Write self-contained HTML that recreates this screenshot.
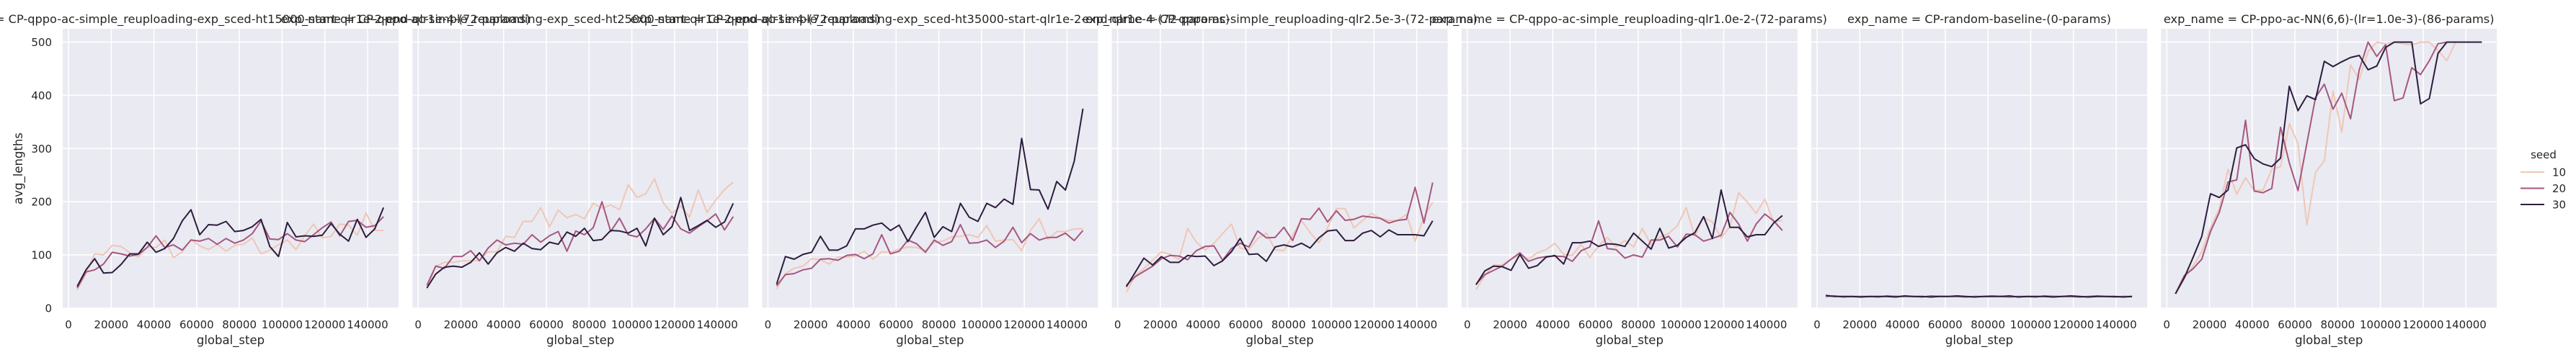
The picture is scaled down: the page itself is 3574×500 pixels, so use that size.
<!DOCTYPE html>
<html><head><meta charset="utf-8">
<style>
html,body{margin:0;padding:0;background:#fff;}
svg{display:block;font-family:"DejaVu Sans","Liberation Sans",sans-serif;}
</style></head>
<body>
<svg id="chart" width="3574" height="500" viewBox="0 0 3574 500" xmlns="http://www.w3.org/2000/svg"></svg>
<script>
const panelTitles = [
 "exp_name = CP-qppo-ac-simple_reuploading-exp_sced-ht15000-start-qlr1e-2-end-qlr1e-4-(72-params)",
 "exp_name = CP-qppo-ac-simple_reuploading-exp_sced-ht25000-start-qlr1e-2-end-qlr1e-4-(72-params)",
 "exp_name = CP-qppo-ac-simple_reuploading-exp_sced-ht35000-start-qlr1e-2-end-qlr1e-4-(72-params)",
 "exp_name = CP-qppo-ac-simple_reuploading-qlr2.5e-3-(72-params)",
 "exp_name = CP-qppo-ac-simple_reuploading-qlr1.0e-2-(72-params)",
 "exp_name = CP-random-baseline-(0-params)",
 "exp_name = CP-ppo-ac-NN(6,6)-(lr=1.0e-3)-(86-params)"
];
const seeds = [10, 20, 30];
const xTicks = [0,20000,40000,60000,80000,100000,120000,140000];
const yTicks = [0,100,200,300,400,500];
const stepCount = 36;
const stepSize = 4096;
// panel 1
const p1s10=[34,65,102,100,118,116,104,96,115,114,128,95,106,129,117,110,120,107,118,120,132,102,109,119,128,110,136,158,132,135,158,156,137,179,146,146];
const p1s20=[38,68,72,83,105,102,98,101,114,136,114,119,109,128,126,131,120,131,122,128,140,164,130,129,140,128,125,138,151,162,136,163,165,152,155,172];
const p1s30=[41,72,93,66,67,82,102,102,124,105,112,131,164,185,138,157,156,163,144,146,153,167,116,97,161,134,136,135,137,159,139,126,167,133,149,189];
// panel 2
const p2s10=[36,79,86,86,89,89,90,106,106,135,133,163,163,189,153,184,170,176,168,197,188,194,185,232,208,215,243,198,178,192,171,222,180,203,223,237];
const p2s20=[43,79,75,97,97,108,89,113,128,119,122,120,138,124,136,144,107,145,138,151,200,144,169,138,134,149,169,148,173,149,141,153,164,177,147,172];
const p2s30=[38,64,77,79,77,86,104,83,104,114,107,122,112,110,124,120,143,135,150,127,129,146,145,141,150,117,169,138,153,208,146,155,165,152,162,197];
// panel 3
const p3s10=[36,65,75,79,93,91,83,96,96,98,107,92,106,105,111,115,114,108,124,126,134,135,138,133,155,126,128,129,108,146,168,129,144,144,149,149];
const p3s20=[42,63,65,72,75,92,93,90,99,101,93,102,138,102,107,128,121,105,128,118,125,157,122,123,128,114,126,152,123,140,128,133,133,141,127,146];
const p3s30=[45,97,92,101,105,135,109,109,117,149,149,156,160,146,156,125,153,180,133,153,144,197,171,163,197,189,205,195,319,223,222,186,238,222,276,375];
// panel 4
const p4s10=[30,61,74,90,106,101,91,150,124,109,122,140,158,113,110,131,141,110,108,137,165,142,123,151,187,187,151,165,178,169,165,165,176,126,171,199];
const p4s20=[43,59,69,79,93,99,98,91,108,116,117,90,112,122,115,145,132,133,152,127,168,167,188,162,183,165,167,173,171,169,160,165,167,227,160,236];
const p4s30=[40,67,94,81,97,86,86,99,97,98,80,89,106,131,101,102,88,115,119,115,122,113,132,145,147,127,127,141,146,134,147,138,138,138,136,164];
// panel 5
const p5s10=[35,61,81,81,92,99,92,104,110,122,101,99,120,95,117,133,115,127,115,150,119,134,140,155,189,135,171,162,132,153,217,199,178,205,162,165];
const p5s20=[45,63,71,79,92,104,88,94,97,98,97,88,108,115,164,112,110,94,100,96,128,128,135,115,139,138,126,131,137,180,158,126,158,177,164,146];
const p5s30=[44,70,79,78,71,101,75,80,96,99,83,123,123,126,116,121,120,116,141,126,111,150,113,118,133,142,172,131,222,152,152,134,138,138,160,174];
// panel 6
const p6s10=[23,22,22,21,22,21,22,22,23,22,21,22,22,23,22,21,22,22,21,22,23,22,22,21,22,22,23,22,21,22,22,22,21,22,22,21];
const p6s20=[22,23,21,22,22,22,21,23,22,22,22,21,23,22,22,22,21,22,22,23,22,21,22,22,21,23,22,22,22,21,22,23,22,21,22,22];
const p6s30=[24,22,22,22,21,22,22,22,21,23,22,22,21,22,22,23,22,21,22,22,22,23,21,22,22,22,21,22,23,22,21,22,22,22,21,22];
// panel 7
const p7s10=[27,56,79,106,151,187,261,214,245,221,222,261,266,347,309,156,255,277,408,331,457,430,482,500,497,500,497,495,500,500,484,465,500,500,500,500];
const p7s20=[27,61,74,92,144,180,237,241,353,220,217,225,340,273,221,309,396,421,374,404,356,448,500,473,495,390,395,452,439,465,497,500,500,500,500,500];
const p7s30=[27,57,95,135,215,208,222,301,307,281,271,266,282,417,371,399,392,464,454,463,471,475,448,455,490,500,500,500,384,394,479,500,500,500,500,500];
const panelSeries=[[p1s10,p1s20,p1s30],[p2s10,p2s20,p2s30],[p3s10,p3s20,p3s30],[p4s10,p4s20,p4s30],[p5s10,p5s20,p5s30],[p6s10,p6s20,p6s30],[p7s10,p7s20,p7s30]];

const NS="http://www.w3.org/2000/svg";
const svg=document.getElementById('chart');
const colors=["#efc7b6","#a5577f","#2c1d3d"];
const panelLeft0=87, pitch=485.2, pw=466, plotTop=40, plotBottom=428;
const xMin=-2700, xMax=154500, yMin=0, yMax=525;
function mk(tag,attrs,parent){const e=document.createElementNS(NS,tag);for(const k in attrs)e.setAttribute(k,attrs[k]);(parent||svg).appendChild(e);return e;}
function yS(v){return plotBottom-(v-yMin)/(yMax-yMin)*(plotBottom-plotTop);}

const titleLayer=mk('g',{});



panelSeries.forEach((series,pi)=>{
  const L=panelLeft0+pi*pitch;
  const xS=v=>L+(v-xMin)/(xMax-xMin)*pw;
  const g=mk('g',{});
  
  
  const bg=mk('rect',{x:L,y:plotTop,width:pw,height:plotBottom-plotTop,fill:'#eaeaf2'},g);
  
  
  xTicks.forEach(t=>{
    const x=xS(t);
    const gl=mk('line',{x1:x,x2:x,y1:plotTop,y2:plotBottom,stroke:'#fff','stroke-width':1.6},g);
    
    
    const tl=mk('text',{x:x,y:456,'font-size':15,fill:'#262626','text-anchor':'middle'},g);
    tl.textContent=t;
    
    
  });
  yTicks.forEach(t=>{
    const y=yS(t);
    const gl=mk('line',{x1:L,x2:L+pw,y1:y,y2:y,stroke:'#fff','stroke-width':1.6},g);
    
    
    if(pi===0){
      const tl=mk('text',{x:72,y:y+5.5,'font-size':15,fill:'#262626','text-anchor':'end'},g);
      tl.textContent=t;
      
      
    }
  });
  series.forEach((vals,si)=>{
    const pts=vals.map((v,i)=>xS((i+1)*stepSize).toFixed(1)+','+yS(v).toFixed(1)).join(' ');
    const pl=mk('polyline',{points:pts,fill:'none',stroke:colors[si],'stroke-width':2,'stroke-linejoin':'round'},g);
    
    
  });
  const xl=mk('text',{x:L+pw/2,y:478,'font-size':16.5,fill:'#262626','text-anchor':'middle'},g);
  xl.textContent='global_step';
  
  
  const tt=mk('text',{x:L+pw/2,y:32,'font-size':16.2,fill:'#262626','text-anchor':'middle'},titleLayer);
  tt.textContent=panelTitles[pi];
  
  
});
svg.appendChild(titleLayer);

const yl=mk('text',{x:0,y:0,'font-size':16.5,fill:'#262626','text-anchor':'middle',transform:'translate(31,234) rotate(-90)'});
yl.textContent='avg_lengths';



const lg=mk('g',{});


const lt=mk('text',{x:3529,y:220,'font-size':15,fill:'#262626','text-anchor':'middle'},lg);
lt.textContent='seed';


seeds.forEach((s,i)=>{
  const y=239+i*22.5;
  const ln=mk('line',{x1:3497,x2:3530,y1:y,y2:y,stroke:colors[i],'stroke-width':2},lg);
  
  
  const tx=mk('text',{x:3541,y:y+5.5,'font-size':15,fill:'#262626'},lg);
  tx.textContent=s;
  
  
});
</script>
</body></html>
